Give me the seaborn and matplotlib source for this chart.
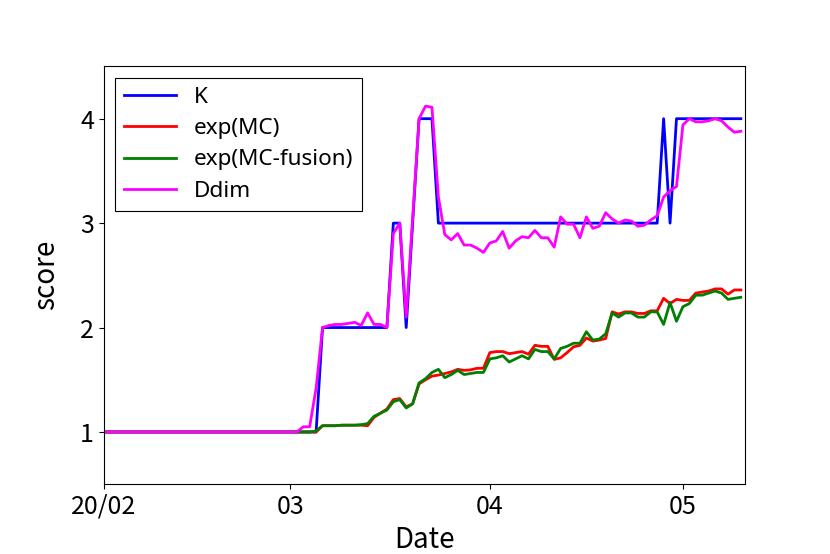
import numpy as np
import pandas as pd
import matplotlib
matplotlib.use("Agg")
import matplotlib.pyplot as plt
import seaborn as sns

# daily values starting 2020-02-01
start = "2020-02-01"
n_days = 100

k_vals = ([1] * 34 + [2] * 11 + [3, 3, 2, 3] + [4, 4, 4] + [3] * 35
          + [4, 3] + [4] * 11)

mc_vals = ([1.0] * 34 +
           [1.06, 1.06, 1.06, 1.065, 1.065, 1.065, 1.065, 1.06, 1.14, 1.18,
            1.22, 1.31, 1.32, 1.24, 1.27, 1.46, 1.50, 1.535, 1.545, 1.56,
            1.575, 1.60, 1.59, 1.595, 1.61, 1.61, 1.76, 1.77, 1.77, 1.75,
            1.76, 1.77, 1.745, 1.83, 1.82, 1.82, 1.695, 1.71, 1.76, 1.815,
            1.83, 1.90, 1.87, 1.88, 1.895, 2.15, 2.13, 2.15, 2.15, 2.135,
            2.135, 2.16, 2.16, 2.28, 2.23, 2.27, 2.26, 2.26, 2.33, 2.34,
            2.35, 2.37, 2.37, 2.32, 2.36, 2.36])

fusion_vals = ([1.0] * 33 +
               [1.01, 1.06, 1.06, 1.06, 1.065, 1.065, 1.065, 1.07, 1.08, 1.15,
                1.18, 1.21, 1.29, 1.31, 1.23, 1.27, 1.47, 1.51, 1.57, 1.60,
                1.52, 1.55, 1.59, 1.55, 1.56, 1.57, 1.57, 1.70, 1.71, 1.73,
                1.67, 1.70, 1.73, 1.70, 1.79, 1.77, 1.77, 1.70, 1.80, 1.82,
                1.85, 1.85, 1.96, 1.88, 1.89, 1.94, 2.14, 2.10, 2.14, 2.14,
                2.10, 2.10, 2.15, 2.15, 2.03, 2.24, 2.06, 2.20, 2.23, 2.31,
                2.31, 2.33, 2.35, 2.33, 2.27, 2.28, 2.29])

ddim_vals = ([1.0] * 31 +
             [1.05, 1.05, 1.42, 2.0, 2.02, 2.03, 2.03, 2.04, 2.05, 2.02,
              2.14, 2.03, 2.03, 2.0, 2.9, 3.0, 2.1, 3.05, 4.0, 4.12,
              4.11, 3.25, 2.89, 2.84, 2.9, 2.79, 2.79, 2.76, 2.72, 2.81,
              2.83, 2.92, 2.76, 2.83, 2.87, 2.86, 2.93, 2.86, 2.86, 2.77,
              3.06, 2.99, 2.99, 2.86, 3.06, 2.95, 2.97, 3.1, 3.04, 3.0,
              3.03, 3.02, 2.97, 2.98, 3.03, 3.07, 3.25, 3.31, 3.35, 3.94,
              4.0, 3.97, 3.97, 3.98, 4.0, 3.98, 3.92, 3.87, 3.88])

series_names = ["K", "exp(MC)", "exp(MC-fusion)", "Ddim"]
series_colors = ["blue", "red", "green", "magenta"]

tick_dates = ["2020-02-01", "2020-03-01", "2020-04-01", "2020-05-01"]
tick_labels = ["20/02", "03", "04", "05"]

dates = pd.date_range(start, periods=n_days, freq="D")
df = pd.DataFrame({"Date": dates, "K": k_vals, "exp(MC)": mc_vals,
                   "exp(MC-fusion)": fusion_vals, "Ddim": ddim_vals})

plt.rcParams["font.family"] = ["Noto Sans CJK JP", "DejaVu Sans"]

fig, ax = plt.subplots(figsize=(8.3, 5.54), dpi=100)
fig.subplots_adjust(left=0.125, right=0.898, top=0.88, bottom=0.126)
for name, c in zip(series_names, series_colors):
    sns.lineplot(data=df, x="Date", y=name, color=c, label=name, lw=2, ax=ax)

ax.set_ylim(0.5, 4.5)
ax.set_yticks([1, 2, 3, 4])
ax.set_xlim(pd.Timestamp(start), pd.Timestamp(start) + pd.Timedelta(days=99.7))
ax.set_xticks(pd.to_datetime(tick_dates))
ax.set_xticklabels(tick_labels)
ax.tick_params(labelsize=18)
ax.set_xlabel("Date", fontsize=20, labelpad=4)
ax.set_ylabel("score", fontsize=20, labelpad=14)

leg = ax.legend(loc="upper left", handlelength=2.3, labelspacing=0.46,
                fancybox=False, edgecolor="black", framealpha=1,
                prop={"family": "Noto Sans", "size": 16.2})
leg.get_frame().set_linewidth(0.8)

plt.savefig("out.png", dpi=100)
